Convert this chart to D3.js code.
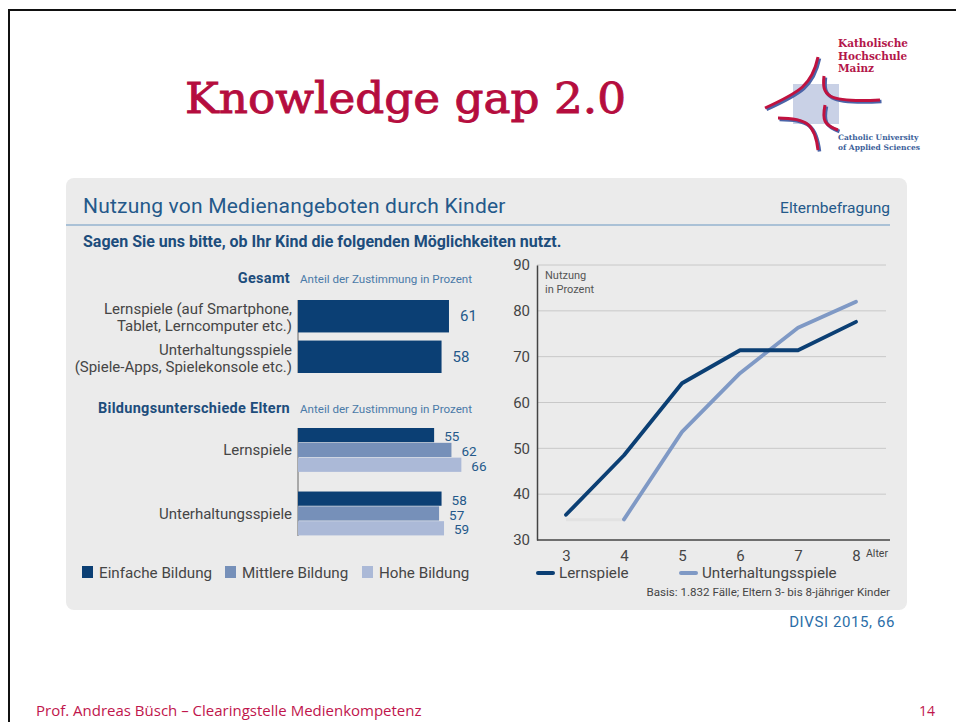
<!DOCTYPE html>
<html><head><meta charset="utf-8">
<script src="https://cdn.jsdelivr.net/npm/d3@7"></script>
<style>
html,body{margin:0;padding:0;background:#fff;}
svg{display:block;}
</style></head>
<body>
<script>
// ---- data ----
const totalCategories = [["Lernspiele (auf Smartphone,", "Tablet, Lerncomputer etc.)"], ["Unterhaltungsspiele", "(Spiele-Apps, Spielekonsole etc.)"]];
const totalValues = [61, 58];
const eduCategories = ["Lernspiele", "Unterhaltungsspiele"];
const eduSeries = ["Einfache Bildung", "Mittlere Bildung", "Hohe Bildung"];
const eduLern = [55, 62, 66];
const eduUnterhaltung = [58, 57, 59];
const ages = [3, 4, 5, 6, 7, 8];
const lernspiele = [35.5, 48.5, 64.2, 71.4, 71.4, 77.6];
const unterhaltung = [null, 34.5, 53.6, 66.4, 76.3, 82];
const unterhaltungAge3 = 34.4;
const yTicks = [30, 40, 50, 60, 70, 80, 90];

const W = 956, H = 722;
const crimson = "#b50d3e";
const dark = "#0b3f74", mid = "#7690b9", light = "#abb9d7", lineLight = "#7f99c5";
const txt = "#454545", blue = "#24598a";
const F = "Roboto, 'DejaVu Sans', sans-serif";

const svg = d3.select("body").append("svg").attr("width", W).attr("height", H)
  .style("font-family", F);

// slide frame
svg.append("line").attr("x1", 9).attr("x2", W).attr("y1", 10).attr("y2", 10).attr("stroke", "#111").attr("stroke-width", 2);
svg.append("line").attr("x1", 9).attr("x2", 9).attr("y1", 9).attr("y2", H).attr("stroke", "#111").attr("stroke-width", 2);

// title
svg.append("text").attr("x", 185).attr("y", 113).attr("fill", crimson).attr("stroke", crimson).attr("stroke-width", 0.9)
  .style("font-family", "'DejaVu Serif', serif").style("font-size", "43px")
  .attr("textLength", 441).attr("lengthAdjust", "spacingAndGlyphs")
  .text("Knowledge gap 2.0");

// logo
const logo = svg.append("g");
logo.append("rect").attr("x", 793).attr("y", 84).attr("width", 46).attr("height", 40).attr("fill", "#c9d1e6");
const curves = [
  "M818,57 C812,85 800,92 765,108",
  "M824,76 C822,95 825,103 880,100",
  "M778,118 C808,118 815,125 818,150",
  "M825,105 C822,120 824,125 838,130"
];
curves.forEach(d => {
  logo.append("path").attr("d", d).attr("fill", "none").attr("stroke", "#4b64a8").attr("stroke-width", 3.5).attr("transform", "translate(1.5,1.5)");
  logo.append("path").attr("d", d).attr("fill", "none").attr("stroke", "#c0123f").attr("stroke-width", 3);
});
["Katholische", "Hochschule", "Mainz"].forEach((t, i) => {
  logo.append("text").attr("x", 838).attr("y", 47 + i * 12.5).attr("fill", "#b3164a")
    .style("font-family", "'DejaVu Serif', serif").style("font-size", "10.5px").style("font-weight", "bold").text(t);
});
["Catholic University", "of Applied Sciences"].forEach((t, i) => {
  logo.append("text").attr("x", 838).attr("y", 140 + i * 10).attr("fill", "#3d5f9a")
    .style("font-family", "'DejaVu Serif', serif").style("font-size", "7.5px").style("font-weight", "bold").text(t);
});

// panel
svg.append("rect").attr("x", 66).attr("y", 178).attr("width", 841).attr("height", 432).attr("rx", 8).attr("fill", "#ebebeb");
svg.append("text").attr("x", 83).attr("y", 213).attr("fill", blue).style("font-size", "21px").style("letter-spacing", "0.2px").text("Nutzung von Medienangeboten durch Kinder");
svg.append("text").attr("x", 890).attr("y", 213).attr("text-anchor", "end").attr("fill", blue).style("font-size", "15.5px").text("Elternbefragung");
svg.append("line").attr("x1", 66).attr("x2", 890).attr("y1", 225).attr("y2", 225).attr("stroke", "#6a98c2").attr("stroke-width", 1.2);
svg.append("text").attr("x", 83).attr("y", 247).attr("fill", "#1d4d7c").style("font-size", "16px").style("font-weight", "bold")
  .text("Sagen Sie uns bitte, ob Ihr Kind die folgenden Möglichkeiten nutzt.");

// ---- bar chart ----
const x = d3.scaleLinear().domain([0, 100]).range([298, 545.5]);

function sectionHead(label, y) {
  svg.append("text").attr("x", 290).attr("y", y).attr("text-anchor", "end").attr("fill", "#1d4d7c")
    .style("font-size", "14.5px").style("font-weight", "bold").style("letter-spacing", "0.3px").text(label);
  svg.append("text").attr("x", 300).attr("y", y).attr("fill", "#4a7aa8").style("font-size", "11.6px").text("Anteil der Zustimmung in Prozent");
}
sectionHead("Gesamt", 283);
sectionHead("Bildungsunterschiede Eltern", 413);

// Gesamt
const yTot = d3.scaleBand().domain(d3.range(totalValues.length)).range([300, 373]).paddingInner(0.2);
svg.append("line").attr("x1", 298).attr("x2", 298).attr("y1", 300).attr("y2", 373).attr("stroke", "#666");
const gTot = svg.append("g");
gTot.selectAll("rect").data(totalValues).join("rect")
  .attr("x", x(0)).attr("y", (d, i) => yTot(i)).attr("width", d => x(d) - x(0)).attr("height", yTot.bandwidth())
  .attr("fill", dark);
gTot.selectAll("text.v").data(totalValues).join("text").attr("class", "v")
  .attr("x", d => x(d) + 11).attr("y", (d, i) => yTot(i) + yTot.bandwidth() / 2 + 5)
  .attr("fill", blue).style("font-size", "15px").text(d => d);
totalCategories.forEach((lines, i) => {
  lines.forEach((l, j) => {
    svg.append("text").attr("x", 292).attr("y", yTot(i) + yTot.bandwidth() / 2 - 2 + j * 17)
      .attr("text-anchor", "end").attr("fill", txt).style("font-size", "15px").text(l);
  });
});

// Bildung
const eduData = [eduLern, eduUnterhaltung];
const yEdu = d3.scaleBand().domain(eduCategories).range([428, 536]).paddingInner(0.3);
const yInner = d3.scaleBand().domain(eduSeries).range([0, yEdu.bandwidth()]);
const colors = d3.scaleOrdinal().domain(eduSeries).range([dark, mid, light]);
svg.append("line").attr("x1", 298).attr("x2", 298).attr("y1", 428).attr("y2", 536).attr("stroke", "#666");
eduCategories.forEach((c, ci) => {
  const g = svg.append("g").attr("transform", `translate(0,${yEdu(c)})`);
  g.selectAll("rect").data(eduData[ci]).join("rect")
    .attr("x", x(0)).attr("y", (d, i) => yInner(eduSeries[i])).attr("width", d => x(d) - x(0))
    .attr("height", yInner.bandwidth() - 0.6).attr("fill", (d, i) => colors(eduSeries[i]));
  g.selectAll("text").data(eduData[ci]).join("text")
    .attr("x", d => x(d) + 10).attr("y", (d, i) => yInner(eduSeries[i]) + yInner.bandwidth() - 1.5)
    .attr("fill", blue).style("font-size", "13.5px").text(d => d);
  svg.append("text").attr("x", 292).attr("y", yEdu(c) + yEdu.bandwidth() / 2 + 5).attr("text-anchor", "end")
    .attr("fill", txt).style("font-size", "15px").text(c);
});

// bar legend
const legX = [82, 225, 362];
eduSeries.forEach((s, i) => {
  svg.append("rect").attr("x", legX[i]).attr("y", 566).attr("width", 11).attr("height", 12).attr("fill", colors(s));
  svg.append("text").attr("x", legX[i] + 17).attr("y", 578).attr("fill", txt).style("font-size", "15.2px").text(s);
});

// ---- line chart ----
const xl = d3.scaleLinear().domain([3, 8]).range([566, 856]);
const yl = d3.scaleLinear().domain([30, 90]).range([540, 265]);
const gl = svg.append("g");
gl.selectAll("line.grid").data(yTicks.slice(1)).join("line").attr("class", "grid")
  .attr("x1", 537).attr("x2", 886).attr("y1", d => yl(d)).attr("y2", d => yl(d))
  .attr("stroke", "#c8c8c8").attr("stroke-width", 1);
const yAxis = gl.append("g").attr("transform", "translate(537,0)")
  .call(d3.axisLeft(yl).tickValues(yTicks).tickSize(0).tickPadding(7));
yAxis.select(".domain").attr("stroke", "#444").attr("stroke-width", 1.5);
yAxis.selectAll("text").attr("fill", txt).style("font-size", "15px").style("font-family", F);
const xAxis = gl.append("g").attr("transform", "translate(0,540)")
  .call(d3.axisBottom(xl).tickValues(ages).tickFormat(d3.format("d")).tickSize(0).tickPadding(10).tickSizeOuter(0));
xAxis.select(".domain").attr("d", "M537,0H890").attr("stroke", "#444").attr("stroke-width", 1.5);
xAxis.selectAll("text").attr("fill", txt).style("font-size", "15px").style("font-family", F);
gl.append("text").attr("x", 866).attr("y", 557).attr("fill", txt).style("font-size", "10.5px").text("Alter");
gl.append("text").attr("x", 545).attr("y", 279).attr("fill", "#555").style("font-size", "11px").text("Nutzung");
gl.append("text").attr("x", 545).attr("y", 293).attr("fill", "#555").style("font-size", "11px").text("in Prozent");

// faint segment age 3-4
gl.append("line").attr("x1", xl(3)).attr("x2", xl(4)).attr("y1", yl(unterhaltungAge3)).attr("y2", yl(unterhaltungAge3))
  .attr("stroke", "#e2e2e2").attr("stroke-width", 3);
const line = d3.line().defined(d => d[1] != null).x(d => xl(d[0])).y(d => yl(d[1]));
gl.append("path").datum(ages.map((a, i) => [a, unterhaltung[i]])).attr("d", line)
  .attr("fill", "none").attr("stroke", lineLight).attr("stroke-width", 3.8).attr("stroke-linecap", "round").attr("stroke-linejoin", "round");
gl.append("path").datum(ages.map((a, i) => [a, lernspiele[i]])).attr("d", line)
  .attr("fill", "none").attr("stroke", dark).attr("stroke-width", 3.8).attr("stroke-linecap", "round").attr("stroke-linejoin", "round");

// line legend
[[538, "Lernspiele", dark], [681, "Unterhaltungsspiele", lineLight]].forEach(([lx, t, c]) => {
  gl.append("line").attr("x1", lx).attr("x2", lx + 15).attr("y1", 573).attr("y2", 573).attr("stroke", c).attr("stroke-width", 4).attr("stroke-linecap", "round");
  gl.append("text").attr("x", lx + 21).attr("y", 578).attr("fill", txt).style("font-size", "15.2px").text(t);
});
gl.append("text").attr("x", 890).attr("y", 596).attr("text-anchor", "end").attr("fill", txt).style("font-size", "11.6px")
  .text("Basis: 1.832 Fälle; Eltern 3- bis 8-jähriger Kinder");

// source + footer
svg.append("text").attr("x", 895).attr("y", 627).attr("text-anchor", "end").attr("fill", "#2b6ea8").style("font-size", "15px").style("letter-spacing", "0.6px").text("DIVSI 2015, 66");
svg.append("text").attr("x", 36).attr("y", 716).attr("fill", "#c0154c").style("font-family", "'Open Sans', sans-serif").style("font-size", "15px")
  .text("Prof. Andreas Büsch – Clearingstelle Medienkompetenz");
svg.append("text").attr("x", 935).attr("y", 716).attr("text-anchor", "end").attr("fill", "#c0154c").style("font-family", "'Open Sans', sans-serif").style("font-size", "14px").text("14");
</script>
</body></html>
